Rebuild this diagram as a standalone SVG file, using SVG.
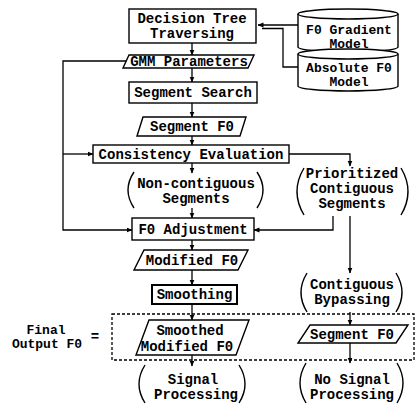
<svg xmlns="http://www.w3.org/2000/svg" width="416" height="407" viewBox="0 0 416 407">
<defs>
<marker id="ar" markerWidth="6" markerHeight="6" refX="5.5" refY="3" orient="auto" markerUnits="userSpaceOnUse">
<path d="M0,0.5 L6,3 L0,5.5 z" fill="#000"/>
</marker>
</defs>
<style>
.s{fill:#fff;stroke:#000;stroke-width:1.4}
.p{fill:none;stroke:#000;stroke-width:1.4}
.c{fill:none;stroke:#000;stroke-width:1.3}
text{font-family:"Liberation Mono","DejaVu Sans Mono",monospace;font-weight:bold;font-size:14px;text-anchor:middle;fill:#000}
.sm{font-size:13px}
</style>
<rect width="416" height="407" fill="#fff"/>
<g id="connectors">
<path class="c" d="M192,43 V55" marker-end="url(#ar)"/>
<path class="c" d="M192,68 V82" marker-end="url(#ar)"/>
<path class="c" d="M192,103 V117" marker-end="url(#ar)"/>
<path class="c" d="M192,136 V145" marker-end="url(#ar)"/>
<path class="c" d="M192,163 V173" marker-end="url(#ar)"/>
<path class="c" d="M192,208 V218" marker-end="url(#ar)"/>
<path class="c" d="M192,240 V250" marker-end="url(#ar)"/>
<path class="c" d="M192,270 V285" marker-end="url(#ar)"/>
<path class="c" d="M192,304 V320" marker-end="url(#ar)"/>
<path class="c" d="M192,355 V366" marker-end="url(#ar)"/>
<path class="c" d="M127,61 H63 V230 H132" marker-end="url(#ar)"/>
<path class="c" d="M63,154 H93" marker-end="url(#ar)"/>
<path class="c" d="M289,154 H350 V166" marker-end="url(#ar)"/>
<path class="c" d="M333,216 V230 H254" marker-end="url(#ar)"/>
<path class="c" d="M350,216 V273" marker-end="url(#ar)"/>
<path class="c" d="M350,312 V325" marker-end="url(#ar)"/>
<path class="c" d="M350,343 V363" marker-end="url(#ar)"/>
<path class="c" d="M298,25 H258" marker-end="url(#ar)"/>
<path class="c" d="M298,67 H283 V28.5 H262"/>
</g>
<g id="n_decision">
<rect class="s" x="129" y="9" width="127" height="34"/>
<text x="192" y="23">Decision Tree</text>
<text x="192" y="38">Traversing</text>
</g>
<g id="n_gradient">
<path class="s" d="M298,14 V47 A50,5 0 0 0 398,47 V14"/>
<ellipse class="s" cx="348" cy="14" rx="50" ry="5"/>
<text class="sm" x="349" y="34">F0 Gradient</text>
<text class="sm" x="349" y="48">Model</text>
</g>
<g id="n_absolute">
<path class="s" d="M298,54 V86 A50,5 0 0 0 398,86 V54"/>
<ellipse class="s" cx="348" cy="54" rx="50" ry="5"/>
<text class="sm" x="349" y="72">Absolute F0</text>
<text class="sm" x="349" y="86">Model</text>
</g>
<g id="n_gmm">
<polygon class="s" points="129,55 254,55 248,68 123,68"/>
<text x="189" y="66">GMM Parameters</text>
</g>
<g id="n_search">
<rect class="s" x="129" y="82" width="128" height="21"/>
<text x="193" y="97">Segment Search</text>
</g>
<g id="n_segf0">
<polygon class="s" points="143,117 246,117 240,136 137,136"/>
<text x="192" y="131">Segment F0</text>
</g>
<g id="n_consistency">
<rect class="s" x="93" y="145" width="196" height="18"/>
<text x="191" y="159">Consistency Evaluation</text>
</g>
<g id="n_noncontig">
<path class="p" d="M134,172 Q122,190 134,208"/>
<path class="p" d="M257,172 Q269,190 257,208"/>
<text x="196" y="188">Non-contiguous</text>
<text x="196" y="203">Segments</text>
</g>
<g id="n_prioritized">
<path class="p" d="M304,168 Q290,191.5 304,215"/>
<path class="p" d="M401,168 Q415,191.5 401,215"/>
<text x="352" y="178">Prioritized</text>
<text x="352" y="193">Contiguous</text>
<text x="352" y="208">Segments</text>
</g>
<g id="n_adjust">
<rect class="s" x="132" y="218" width="122" height="22"/>
<text x="193" y="234">F0 Adjustment</text>
</g>
<g id="n_modified">
<polygon class="s" points="144,250 248,250 238,270 134,270"/>
<text x="192" y="265">Modified F0</text>
</g>
<g id="n_smoothing">
<rect x="152" y="285" width="85" height="19" fill="#fff" stroke="#000" stroke-width="2"/>
<text x="194.5" y="299">Smoothing</text>
</g>
<g id="n_bypass">
<path class="p" d="M307,273 Q295,292.5 307,312"/>
<path class="p" d="M396,273 Q408,292.5 396,312"/>
<text x="352" y="289">Contiguous</text>
<text x="352" y="304">Bypassing</text>
</g>
<g id="n_final">
<rect x="112" y="314" width="302" height="46" fill="none" stroke="#000" stroke-width="1.3" stroke-dasharray="3,2"/>
<text class="sm" x="46" y="334">Final</text>
<text class="sm" x="47" y="348">Output F0</text>
<text x="95" y="341">=</text>
</g>
<g id="n_smoothed">
<polygon class="s" points="149,320 249,320 236,355 136,355"/>
<text x="190" y="335">Smoothed</text>
<text x="187" y="351">Modified F0</text>
</g>
<g id="n_segf0b">
<polygon class="s" points="310,325 408,325 396,343 298,343"/>
<text x="352" y="339">Segment F0</text>
</g>
<g id="n_signal">
<path class="p" d="M145,365 Q133,384 145,403"/>
<path class="p" d="M239,365 Q251,384 239,403"/>
<text x="193" y="384">Signal</text>
<text x="196" y="399">Processing</text>
</g>
<g id="n_nosignal">
<path class="p" d="M306,363 Q294,383 306,403"/>
<path class="p" d="M397,363 Q409,383 397,403"/>
<text x="352" y="384">No Signal</text>
<text x="352" y="399">Processing</text>
</g>
</svg>
